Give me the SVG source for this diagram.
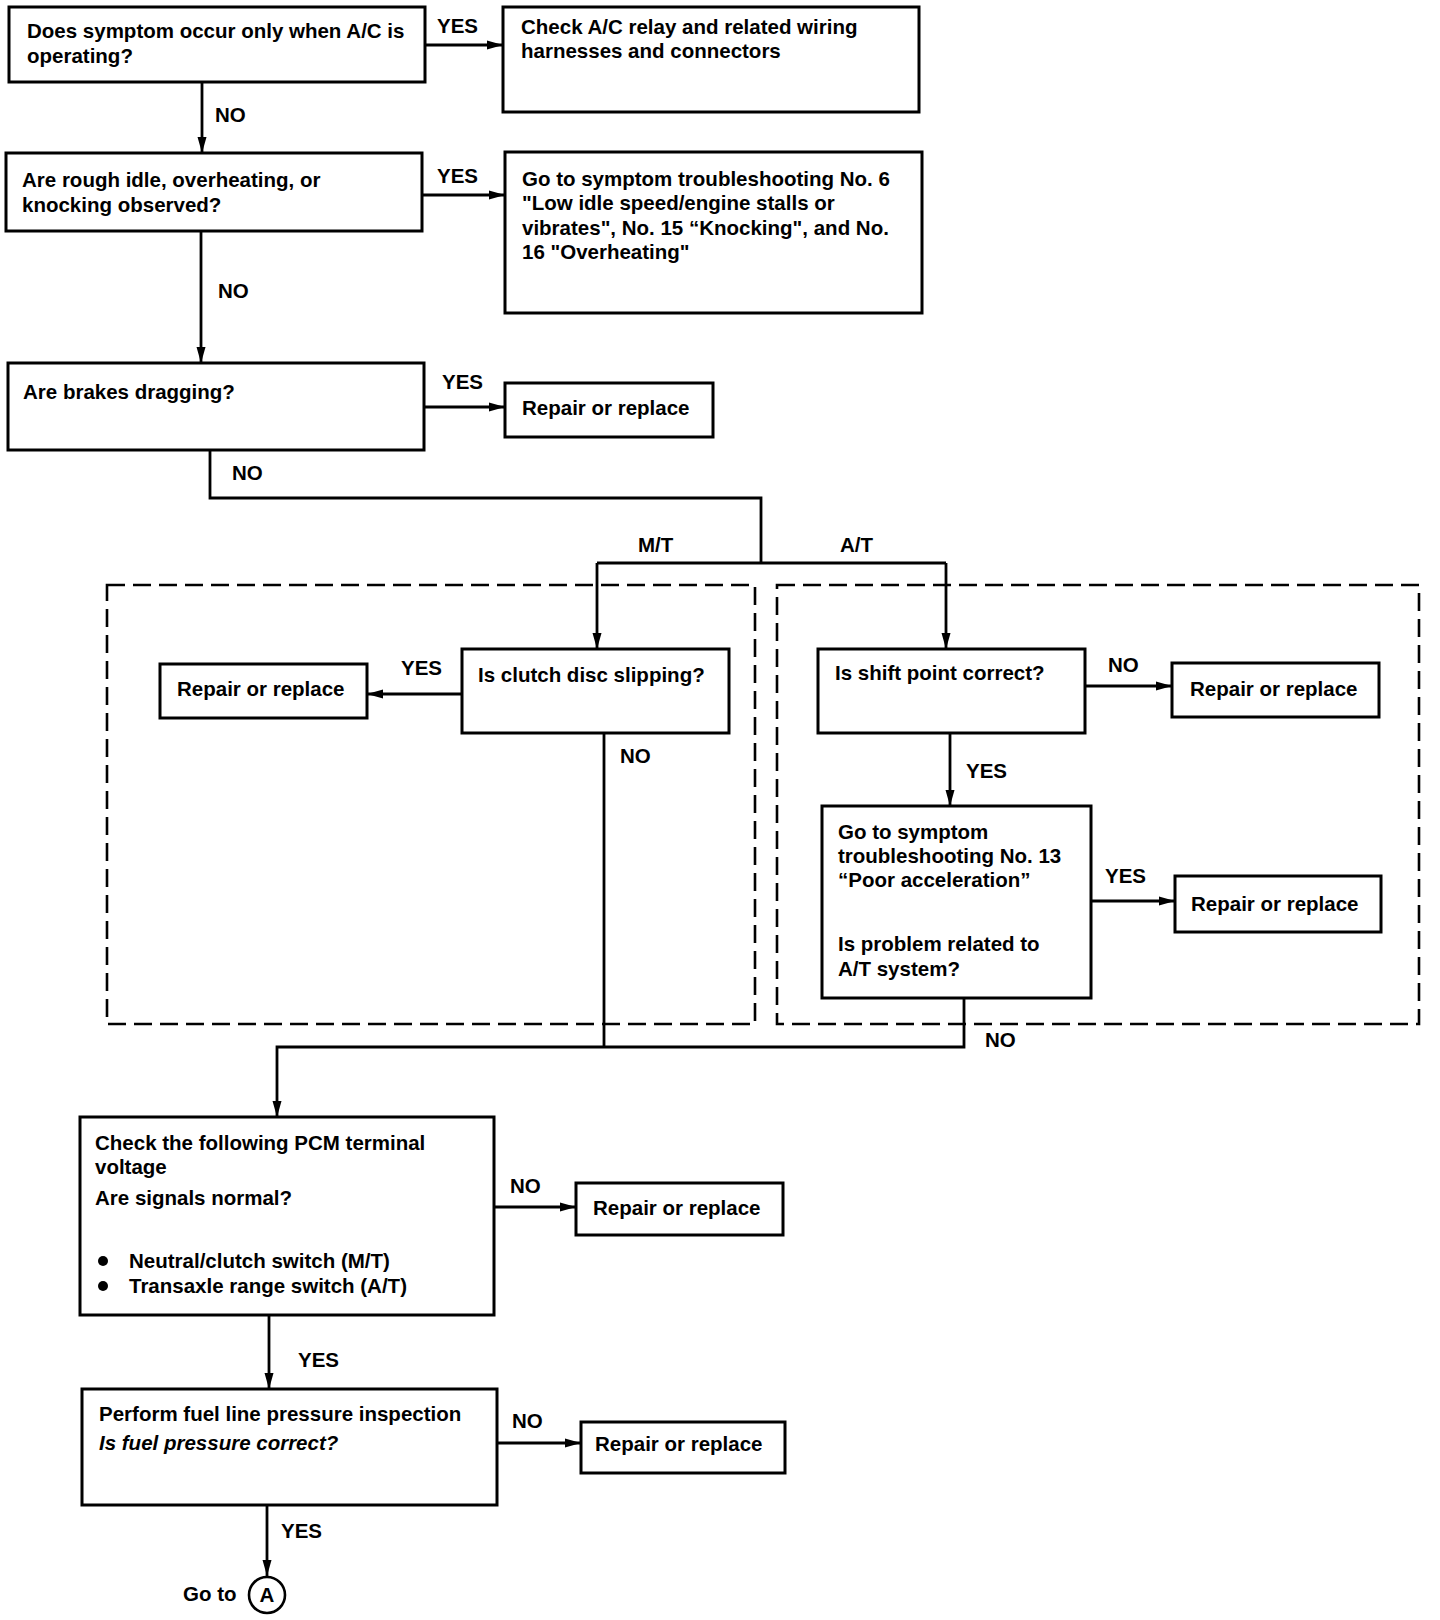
<svg xmlns="http://www.w3.org/2000/svg" width="1440" height="1620" viewBox="0 0 1440 1620">
<style>
.box{fill:#fff;stroke:#000;stroke-width:3}
.dash{fill:none;stroke:#000;stroke-width:2.6;stroke-dasharray:18 8}
.ln{fill:none;stroke:#000;stroke-width:2.8}
text{font-family:"Liberation Sans",Arial,sans-serif;font-size:20.5px;font-weight:bold;fill:#000}
.it{font-style:italic}
</style>
<defs>
<marker id="ah" viewBox="0 0 16 10" refX="16" refY="5" markerWidth="16" markerHeight="10" orient="auto" markerUnits="userSpaceOnUse"><path d="M0,0.5 L16,5 L0,9.5 z" fill="#000"/></marker>
</defs>
<rect width="1440" height="1620" fill="#fff"/>

<g id="groups">
<rect class="dash" x="107" y="585" width="648" height="439"/>
<rect class="dash" x="777" y="585" width="642" height="439"/>
</g>

<g id="connectors">
<line class="ln" x1="425" y1="45" x2="503" y2="45" marker-end="url(#ah)"/>
<line class="ln" x1="202" y1="82" x2="202" y2="153" marker-end="url(#ah)"/>
<line class="ln" x1="422" y1="195" x2="505" y2="195" marker-end="url(#ah)"/>
<line class="ln" x1="201" y1="231" x2="201" y2="363" marker-end="url(#ah)"/>
<line class="ln" x1="424" y1="407" x2="505" y2="407" marker-end="url(#ah)"/>
<polyline class="ln" points="210,450 210,498 761,498 761,563"/>
<line class="ln" x1="597" y1="563" x2="946" y2="563"/>
<line class="ln" x1="597" y1="563" x2="597" y2="649" marker-end="url(#ah)"/>
<line class="ln" x1="946" y1="563" x2="946" y2="649" marker-end="url(#ah)"/>
<line class="ln" x1="462" y1="694" x2="367" y2="694" marker-end="url(#ah)"/>
<line class="ln" x1="1085" y1="686" x2="1172" y2="686" marker-end="url(#ah)"/>
<line class="ln" x1="950" y1="733" x2="950" y2="806" marker-end="url(#ah)"/>
<line class="ln" x1="1091" y1="901" x2="1175" y2="901" marker-end="url(#ah)"/>
<line class="ln" x1="604" y1="733" x2="604" y2="1047"/>
<polyline class="ln" points="964,998 964,1047 277,1047 277,1117" marker-end="url(#ah)"/>
<line class="ln" x1="494" y1="1207" x2="576" y2="1207" marker-end="url(#ah)"/>
<line class="ln" x1="269" y1="1315" x2="269" y2="1389" marker-end="url(#ah)"/>
<line class="ln" x1="497" y1="1443" x2="581" y2="1443" marker-end="url(#ah)"/>
<line class="ln" x1="267" y1="1505" x2="267" y2="1576" marker-end="url(#ah)"/>
<text x="437" y="33">YES</text>
<text x="215" y="122">NO</text>
<text x="437" y="183">YES</text>
<text x="218" y="298">NO</text>
<text x="442" y="389">YES</text>
<text x="232" y="480">NO</text>
<text x="638" y="552">M/T</text>
<text x="840" y="552">A/T</text>
<text x="401" y="675">YES</text>
<text x="620" y="763">NO</text>
<text x="1108" y="672">NO</text>
<text x="966" y="778">YES</text>
<text x="1105" y="883">YES</text>
<text x="985" y="1047">NO</text>
<text x="510" y="1193">NO</text>
<text x="298" y="1367">YES</text>
<text x="512" y="1428">NO</text>
<text x="281" y="1538">YES</text>
</g>

<g id="q-ac">
<rect class="box" x="9" y="7" width="416" height="75"/>
<text x="27" y="38">Does symptom occur only when A/C is</text>
<text x="27" y="63">operating?</text>
</g>
<g id="check-ac">
<rect class="box" x="503" y="7" width="416" height="105"/>
<text x="521" y="34">Check A/C relay and related wiring</text>
<text x="521" y="58">harnesses and connectors</text>
</g>
<g id="q-rough">
<rect class="box" x="6" y="153" width="416" height="78"/>
<text x="22" y="187">Are rough idle, overheating, or</text>
<text x="22" y="212">knocking observed?</text>
</g>
<g id="goto-6">
<rect class="box" x="505" y="152" width="417" height="161"/>
<text x="522" y="186">Go to symptom troubleshooting No. 6</text>
<text x="522" y="210">"Low idle speed/engine stalls or</text>
<text x="522" y="235">vibrates", No. 15 “Knocking", and No.</text>
<text x="522" y="259">16 "Overheating"</text>
</g>
<g id="q-brakes">
<rect class="box" x="8" y="363" width="416" height="87"/>
<text x="23" y="399">Are brakes dragging?</text>
</g>
<g id="repair-brakes">
<rect class="box" x="505" y="383" width="208" height="54"/>
<text x="522" y="415">Repair or replace</text>
</g>
<g id="q-clutch">
<rect class="box" x="462" y="649" width="267" height="84"/>
<text x="478" y="682">Is clutch disc slipping?</text>
</g>
<g id="repair-clutch">
<rect class="box" x="160" y="664" width="207" height="54"/>
<text x="177" y="696">Repair or replace</text>
</g>
<g id="q-shift">
<rect class="box" x="818" y="649" width="267" height="84"/>
<text x="835" y="680">Is shift point correct?</text>
</g>
<g id="repair-shift">
<rect class="box" x="1172" y="663" width="207" height="54"/>
<text x="1190" y="696">Repair or replace</text>
</g>
<g id="goto-13">
<rect class="box" x="822" y="806" width="269" height="192"/>
<text x="838" y="839">Go to symptom</text>
<text x="838" y="863">troubleshooting No. 13</text>
<text x="838" y="887">“Poor acceleration”</text>
<text x="838" y="951">Is problem related to</text>
<text x="838" y="976">A/T system?</text>
</g>
<g id="repair-at">
<rect class="box" x="1175" y="876" width="206" height="56"/>
<text x="1191" y="911">Repair or replace</text>
</g>
<g id="q-pcm">
<rect class="box" x="80" y="1117" width="414" height="198"/>
<text x="95" y="1150">Check the following PCM terminal</text>
<text x="95" y="1174">voltage</text>
<text x="95" y="1205">Are signals normal?</text>
<circle cx="103" cy="1261" r="5" fill="#000"/>
<text x="129" y="1268">Neutral/clutch switch (M/T)</text>
<circle cx="103" cy="1286" r="5" fill="#000"/>
<text x="129" y="1293">Transaxle range switch (A/T)</text>
</g>
<g id="repair-pcm">
<rect class="box" x="576" y="1183" width="207" height="52"/>
<text x="593" y="1215">Repair or replace</text>
</g>
<g id="q-fuel">
<rect class="box" x="82" y="1389" width="415" height="116"/>
<text x="99" y="1421">Perform fuel line pressure inspection</text>
<text x="99" y="1450" class="it">Is fuel pressure correct?</text>
</g>
<g id="repair-fuel">
<rect class="box" x="581" y="1422" width="204" height="51"/>
<text x="595" y="1451">Repair or replace</text>
</g>
<g id="goto-a">
<text x="183" y="1601">Go to</text>
<circle cx="267" cy="1595" r="18" fill="#fff" stroke="#000" stroke-width="2.6"/>
<text x="267" y="1602" text-anchor="middle">A</text>
</g>
</svg>
